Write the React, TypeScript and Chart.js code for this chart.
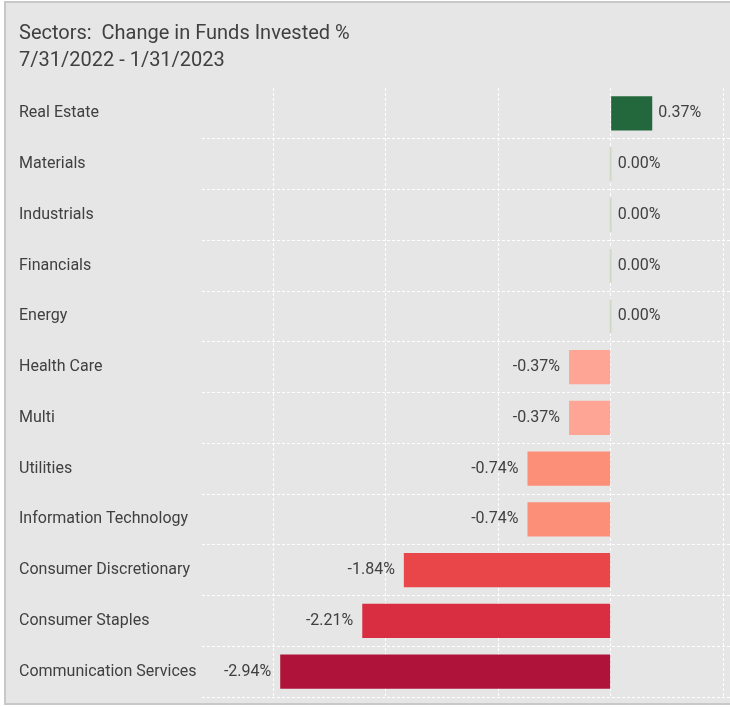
import React, { useEffect, useRef } from "react";
import { Chart, registerables } from "chart.js";

Chart.register(...registerables);

const categories = [
  "Real Estate",
  "Materials",
  "Industrials",
  "Financials",
  "Energy",
  "Health Care",
  "Multi",
  "Utilities",
  "Information Technology",
  "Consumer Discretionary",
  "Consumer Staples",
  "Communication Services",
];
const values = [0.37, 0.0, 0.0, 0.0, 0.0, -0.37, -0.37, -0.74, -0.74, -1.84, -2.21, -2.94];
const barColors = [
  "#23683d",
  "#d0dac7",
  "#d0dac7",
  "#d0dac7",
  "#d0dac7",
  "#fea595",
  "#fea595",
  "#fb8f78",
  "#fb8f78",
  "#e84648",
  "#d92d41",
  "#b01339",
];
const titleText = "Sectors:  Change in Funds Invested %";
const subtitleText = "7/31/2022 - 1/31/2023";

const FONT = "Roboto, 'Open Sans', sans-serif";
const TEXT_COLOR = "#404040";

const valueLabels = {
  id: "valueLabels",
  afterDatasetsDraw(chart: any) {
    const ctx = chart.ctx;
    const meta = chart.getDatasetMeta(0);
    const data = chart.data.datasets[0].data as number[];
    ctx.save();
    ctx.font = `16px ${FONT}`;
    ctx.fillStyle = TEXT_COLOR;
    ctx.textBaseline = "middle";
    meta.data.forEach((bar: any, i: number) => {
      const v = data[i];
      const label = v.toFixed(2) + "%";
      const right = Math.max(bar.x, bar.base);
      const left = Math.min(bar.x, bar.base);
      if (v >= 0) {
        ctx.textAlign = "left";
        ctx.fillText(label, right + 6, bar.y);
      } else {
        ctx.textAlign = "right";
        ctx.fillText(label, left - 9, bar.y);
      }
    });
    ctx.restore();
  },
};

export default function App() {
  const ref = useRef<HTMLCanvasElement | null>(null);

  useEffect(() => {
    if (!ref.current) return;
    const n = categories.length;
    const chart = new Chart(ref.current, {
      type: "bar",
      data: {
        labels: categories,
        datasets: [
          {
            data: values,
            backgroundColor: barColors,
            borderWidth: 0,
            minBarLength: 2,
            barPercentage: 0.67,
            categoryPercentage: 1,
          },
        ],
      },
      options: {
        indexAxis: "y",
        animation: false,
        responsive: false,
        devicePixelRatio: 1,
        layout: { autoPadding: false, padding: { left: 13, top: 0, right: 0, bottom: 6 } },
        plugins: {
          legend: { display: false },
          tooltip: { enabled: false },
          title: {
            display: true,
            text: titleText,
            align: "start",
            color: TEXT_COLOR,
            font: { family: FONT, size: 20, weight: "normal", lineHeight: 1.2 },
            padding: { top: 19, bottom: 0 },
          },
          subtitle: {
            display: true,
            text: subtitleText,
            align: "start",
            color: TEXT_COLOR,
            font: { family: FONT, size: 20, weight: "normal", lineHeight: 1.2 },
            padding: { top: 3, bottom: 15 },
          },
        },
        scales: {
          x: {
            type: "linear",
            min: -3.636,
            max: 1.062,
            ticks: { display: false, stepSize: 1, includeBounds: false },
            grid: {
              color: "#ffffff",
              lineWidth: 1,
              drawTicks: false,
            },
            border: { display: false, dash: [3, 2] },
          },
          y: {
            type: "category",
            afterFit(scale: any) {
              scale.width = 183;
              scale.paddingTop = 0;
              scale.paddingBottom = 0;
            },
            ticks: {
              crossAlign: "far",
              color: TEXT_COLOR,
              font: { family: FONT, size: 16, lineHeight: 0.2 },
              padding: 0,
            },
            grid: {
              offset: true,
              drawTicks: false,
              lineWidth: 1,
              color: (c: any) =>
                c.index === 0 || c.index === n ? "rgba(0,0,0,0)" : "#ffffff",
            },
            border: { display: false, dash: [3, 2] },
          },
        },
      },
      plugins: [valueLabels],
    });
    return () => chart.destroy();
  }, []);

  return (
    <div
      style={{
        position: "fixed",
        left: 4,
        top: 1,
        width: 726,
        height: 704,
        boxSizing: "border-box",
        background: "#e6e6e6",
        borderTop: "2px solid #c8c8c8",
        borderLeft: "2px solid #c8c8c8",
        borderBottom: "2px solid #c8c8c8",
        overflow: "hidden",
      }}
    >
      <canvas ref={ref} width={724} height={700} style={{ display: "block" }} />
    </div>
  );
}
